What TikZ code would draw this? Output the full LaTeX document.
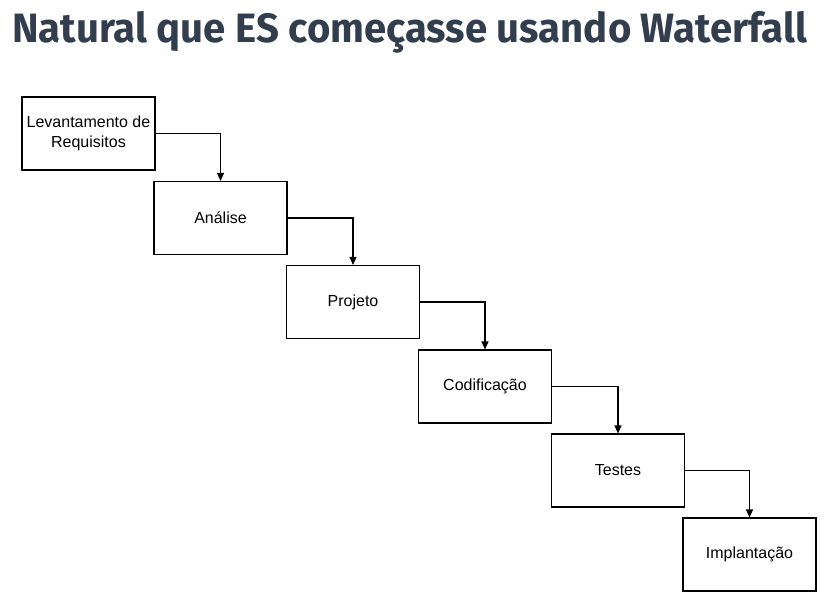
\documentclass[tikz,border=0pt]{standalone}
\usepackage{fontspec}
\setmainfont{Liberation Sans}
\newfontfamily\titlefont{Fira Sans}
\usetikzlibrary{arrows.meta}
\definecolor{titlecol}{HTML}{323E4E}
\begin{document}
\begin{tikzpicture}[x=1pt,y=-1pt,
  stepbox/.style={draw=black, line width=1.1pt, minimum width=133pt, minimum height=73pt, inner sep=0pt, align=center, font=\fontsize{16}{20.5}\selectfont},
  flow/.style={draw=black, line width=1.1pt, -{Triangle[length=8pt,width=7pt]}}]
\useasboundingbox (0,0) rectangle (840,604);
\node[anchor=base west, text=titlecol, inner sep=0pt, xscale=0.978] (title) at (12,43) {\titlefont\bfseries\fontsize{41}{44}\selectfont Natural que ES começasse usando Waterfall};
\node[stepbox] (a) at (88.5,133.5) {Levantamento de\\Requisitos};
\node[stepbox] (b) at (220.5,218) {Análise};
\node[stepbox] (c) at (353,302) {Projeto};
\node[stepbox] (d) at (485,386.5) {Codificação};
\node[stepbox] (e) at (618,470.5) {Testes};
\node[stepbox] (f) at (749.5,554.5) {Implantação};
\draw[flow] (a.east) -| (b.north);
\draw[flow] (b.east) -| (c.north);
\draw[flow] (c.east) -| (d.north);
\draw[flow] (d.east) -| (e.north);
\draw[flow] (e.east) -| (f.north);
\end{tikzpicture}
\end{document}
